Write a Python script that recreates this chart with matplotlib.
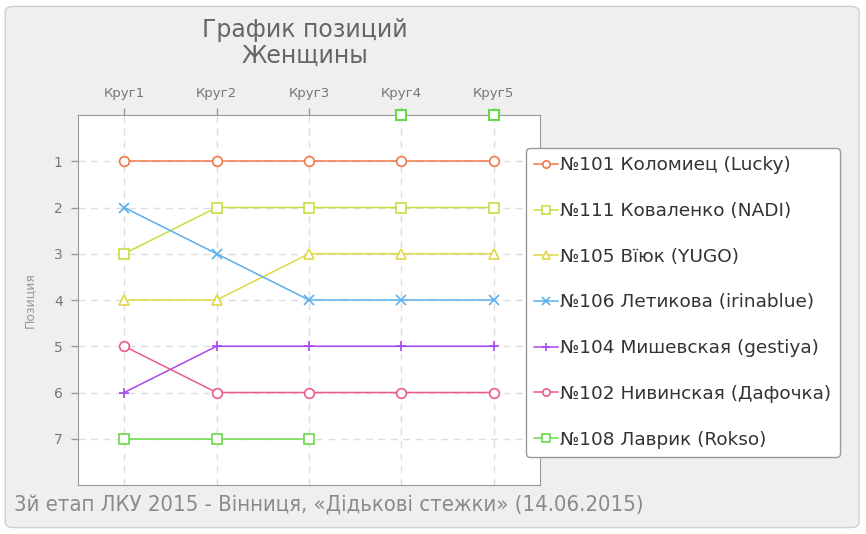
import numpy as np
import matplotlib
matplotlib.use("Agg")
import matplotlib.pyplot as plt
from matplotlib.patches import FancyBboxPatch

rounds = ["Круг1", "Круг2", "Круг3", "Круг4", "Круг5"]
names = [
    "№101 Коломиец (Lucky)",
    "№111 Коваленко (NADI)",
    "№105 Вїюк (YUGO)",
    "№106 Летикова (irinablue)",
    "№104 Мишевская (gestiya)",
    "№102 Нивинская (Дафочка)",
    "№108 Лаврик (Rokso)",
]
# 0 = no position (shown as marker on the top edge)
positions = [
    [1, 1, 1, 1, 1],
    [3, 2, 2, 2, 2],
    [4, 4, 3, 3, 3],
    [2, 3, 4, 4, 4],
    [6, 5, 5, 5, 5],
    [5, 6, 6, 6, 6],
    [7, 7, 7, 0, 0],
]
colors = ["#f07848", "#c4e040", "#e0d848", "#5ab0ec", "#a848f0", "#ec5890", "#68d848"]
markers = ["o", "s", "^", "x", "+", "o", "s"]

title = "График позиций\nЖенщины"
subtitle = "3й етап ЛКУ 2015 - Вінниця, «Дідькові стежки» (14.06.2015)"
ylabel = "Позиция"

grey = "#777777"

fig = plt.figure(figsize=(8.66, 5.34), dpi=100)
fig.patch.set_facecolor("white")
bg = FancyBboxPatch((0.006, 0.012), 0.986, 0.976, boxstyle="round,pad=0,rounding_size=0.01",
                    transform=fig.transFigure, facecolor="#efefef", edgecolor="#d0d0d0", lw=1,
                    zorder=-10)
fig.patches.append(bg)

ax = fig.add_axes([78 / 866, 1 - 485 / 534, (540 - 78) / 866, (485 - 115) / 534])
ax.set_facecolor("white")

x = np.arange(len(rounds))
for name, pos, c, m in zip(names, positions, colors, markers):
    pos = np.array(pos, dtype=float)
    line_y = np.where(pos > 0, pos, np.nan)
    mfc = "white" if m in ("o", "s", "^") else c
    ax.plot(x, line_y, color=c, lw=1.1, marker=m, ms=7, mfc=mfc, mec=c, mew=1.2,
            label=name, clip_on=False, zorder=3)
    out = pos == 0
    if out.any():
        ax.plot(x[out], pos[out], ls="none", marker=m, ms=7, mfc=mfc, mec=c, mew=1.5,
                clip_on=False, zorder=4)

ax.set_xlim(-0.5, 4.5)
ax.set_ylim(8, 0)
ax.set_xticks(x)
ax.set_xticklabels(rounds)
ax.xaxis.tick_top()
ax.set_yticks(range(1, 8))
ax.tick_params(axis="both", colors="#999999", labelcolor=grey, labelsize=9.5, length=5, width=1)
ax.tick_params(axis="x", pad=6)
ax.tick_params(axis="y", pad=6, labelsize=10)
ax.grid(True, color="#dddddd", ls=(0, (5, 4)), lw=1)
for s in ax.spines.values():
    s.set_color("#999999")
ax.set_ylabel(ylabel, color="#999999", fontsize=9, labelpad=13)

leg = ax.legend(loc="upper left", bbox_to_anchor=((526 - 78) / (540 - 78), 1 - (148 - 115) / 370),
                frameon=True, fancybox=True, fontsize=13.3, handlelength=1.3, handletextpad=0.1,
                labelspacing=1.5, borderpad=0.45, borderaxespad=0, markerscale=0.75)
leg.get_frame().set_edgecolor("#999999")
leg.get_frame().set_linewidth(1)
leg.get_frame().set_alpha(1)
for t in leg.get_texts():
    t.set_color("#333333")

fig.text(305 / 866, 1 - 43 / 534, title, ha="center", va="center", fontsize=17,
         color="#666666", linespacing=1.1)
fig.text(14 / 866, 1 - 505 / 534, subtitle, ha="left", va="center", fontsize=15.8,
         color="#8a8a8a", family="DejaVu Sans", fontstretch="condensed")

fig.savefig("out.png", dpi=100, facecolor=fig.get_facecolor())
